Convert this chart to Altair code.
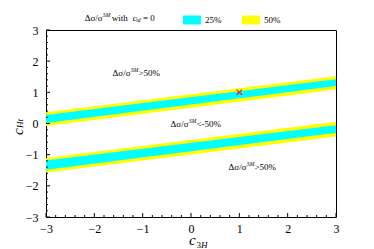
import altair as alt
import pandas as pd

# ---------------- data ----------------
band_x = [-3, 3]
upper_50_lo = [-0.08, 1.09]
upper_25_lo = [0.02, 1.20]
upper_25_hi = [0.27, 1.42]
upper_50_hi = [0.36, 1.52]
lower_50_lo = [-1.57, -0.42]
lower_25_lo = [-1.48, -0.30]
lower_25_hi = [-1.19, -0.06]
lower_50_hi = [-1.11, 0.06]

sm_point_x = [1.0]
sm_point_y = [1.0]

levels = ["25%", "50%"]
level_colors = ["#00FFFF", "#FFFF00"]

ann_x = [-1.25, -0.05, 1.15]
ann_y = [1.62, -0.02, -1.41]
ann_suffix = [">50%", "<-50%", ">50%"]

major_ticks = [-3, -2, -1, 0, 1, 2, 3]
minor_ticks = [i / 5 for i in range(-15, 16) if i % 5 != 0]

# ---------------- layout ----------------
W, H = 290, 187
FONT = "Liberation Serif"

xs = alt.Scale(domain=[-3, 3], nice=False, zero=False)
ys = alt.Scale(domain=[-3, 3], nice=False, zero=False)
cscale = alt.Scale(domain=levels, range=level_colors)

def ax(pad):
    return alt.Axis(values=major_ticks, ticks=False, domain=False, grid=False,
                    labelFont=FONT, labelFontSize=12, labelColor="black",
                    labelOverlap=False, labelFlush=False,
                    labelPadding=pad, title=None, format="d")

legend = alt.Legend(orient="none", legendX=137, legendY=-19, direction="horizontal",
                    title=None, symbolType="M-1,-0.5H1V0.5H-1Z", symbolSize=324,
                    symbolStrokeWidth=0, symbolOpacity=1, labelFont=FONT,
                    labelFontSize=9, labelOffset=4, columnPadding=20, padding=0,
                    labelColor="black")


def X(f):
    return alt.X(f, scale=xs, axis=ax(6))


def Y(f):
    return alt.Y(f, scale=ys, axis=ax(8))


def band_df(lo_u, hi_u, lo_l, hi_l, level):
    rows = []
    for name, lo, hi in (("upper", lo_u, hi_u), ("lower", lo_l, hi_l)):
        for x, a, b in zip(band_x, lo, hi):
            rows.append({"band": name, "x": x, "lo": a, "hi": b, "level": level})
    return pd.DataFrame(rows)

df50 = band_df(upper_50_lo, upper_50_hi, lower_50_lo, lower_50_hi, "50%")
df25 = band_df(upper_25_lo, upper_25_hi, lower_25_lo, lower_25_hi, "25%")

def band_layer(df):
    return alt.Chart(df).mark_area(opacity=1).encode(
        x=X("x:Q"),
        y=Y("lo:Q"),
        y2="hi:Q",
        detail="band:N",
        color=alt.Color("level:N", scale=cscale, legend=legend),
    )

layers = [band_layer(df50), band_layer(df25)]

# red cross (SM point)
layers.append(
    alt.Chart(pd.DataFrame({"x": sm_point_x, "y": sm_point_y})).mark_point(
        shape="M-1,-1L1,1M1,-1L-1,1", size=30, filled=False, stroke="#e8262b",
        strokeWidth=1.3, opacity=1
    ).encode(x=X("x:Q"), y=Y("y:Q"))
)

# inward ticks
def xticks(vals, length):
    return alt.Chart(pd.DataFrame({"v": vals})).mark_rule(color="black", strokeWidth=1).encode(
        x=X("v:Q"), y=alt.value(H), y2=alt.value(H - length))

def yticks(vals, length):
    return alt.Chart(pd.DataFrame({"v": vals})).mark_rule(color="black", strokeWidth=1).encode(
        y=Y("v:Q"), x=alt.value(0), x2=alt.value(length))

layers += [xticks(major_ticks, 4), xticks(minor_ticks, 2),
           yticks(major_ticks, 4), yticks(minor_ticks, 2)]

# annotations
for x, y, suf in zip(ann_x, ann_y, ann_suffix):
    d = pd.DataFrame({"x": [x], "y": [y]})
    base = alt.Chart(d).encode(x=X("x:Q"), y=Y("y:Q"))
    layers.append(base.mark_text(text="Δσ/σ", align="right", baseline="middle",
                                 font=FONT, fontSize=9, color="black"))
    layers.append(base.mark_text(text="SM", align="left", baseline="middle", dx=0.3, dy=-3,
                                 font=FONT, fontSize=5.5, fontStyle="italic", color="black"))
    layers.append(base.mark_text(text=suf, align="left", baseline="middle", dx=7.8,
                                 font=FONT, fontSize=9, color="black"))

one = pd.DataFrame({"a": [0]})

def ptxt(text, x, y, size, style="normal", align="left", baseline="middle", angle=0):
    return alt.Chart(one).mark_text(text=text, fontSize=size, font=FONT, fontStyle=style,
                                    align=align, baseline=baseline, angle=angle,
                                    color="black").encode(x=alt.value(x), y=alt.value(y))

# legend title pieces
layers += [
    ptxt("Δσ/σ", 56.7, -12, 9, align="right"),
    ptxt("SM", 57.0, -15, 5.5, style="italic"),
    ptxt("with", 65.7, -12, 9),
    ptxt("c", 86.7, -12, 9, style="italic"),
    ptxt("td", 90.2, -10, 5.5, style="italic"),
    ptxt("= 0", 97, -12, 9),
]

# axis titles
layers += [
    ptxt("c", 143, 215, 15, style="italic", baseline="alphabetic"),
    ptxt("3", 150.5, 218, 9, baseline="alphabetic"),
    ptxt("H", 155, 218, 9, style="italic", baseline="alphabetic"),
    ptxt("c", -28.5, 105, 15, style="italic", angle=270),
    ptxt("Ht", -26, 98, 9, style="italic", angle=270),
]

chart = alt.layer(*layers).properties(
    width=W, height=H,
    autosize=alt.AutoSizeParams(type="none"),
    padding={"left": 38, "top": 22, "right": 30, "bottom": 33},
).configure_view(stroke="black", strokeWidth=1)

chart.save("out.html", embed_options={"renderer": "svg", "actions": False})
